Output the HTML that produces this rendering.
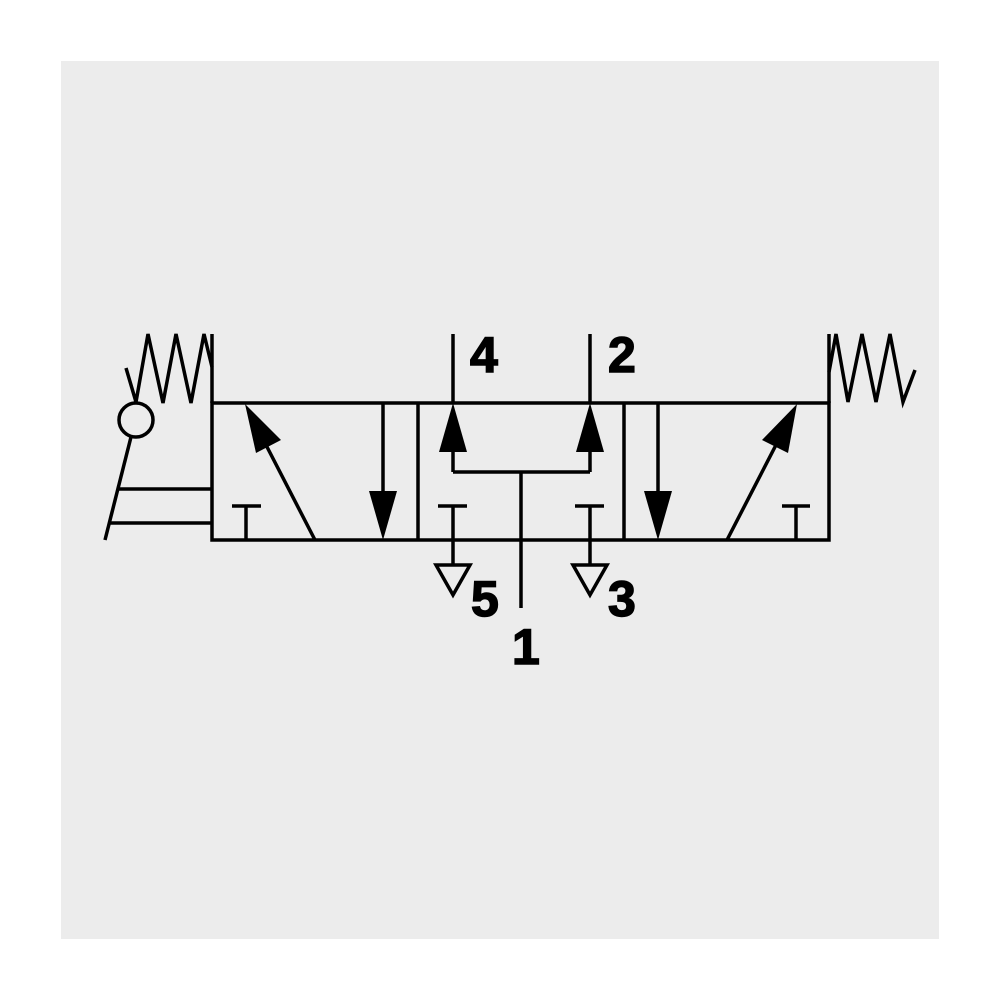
<!DOCTYPE html>
<html><head><style>body{margin:0;background:#fff}</style></head><body>
<svg width="1000" height="1000" viewBox="0 0 1000 1000" xmlns="http://www.w3.org/2000/svg">
<rect x="61" y="61" width="878" height="878" fill="#ececec"/>
<g stroke="#000" stroke-width="3.5" fill="none" stroke-linecap="butt">
<rect x="212" y="403" width="617" height="137"/>
<line x1="418" y1="403" x2="418" y2="540"/>
<line x1="624" y1="403" x2="624" y2="540"/>
<line x1="212" y1="334" x2="212" y2="403"/>
<line x1="829" y1="334" x2="829" y2="403"/>
<polyline points="126,368 136,402 148,334 163,403 176,334 191,403 204,334 212,367"/>
<polyline points="829,372 836,334 848,402 862,334 876,402 890,334 903,402 915,370"/>
<circle cx="136" cy="420" r="17"/>
<line x1="131" y1="437" x2="105" y2="540"/>
<line x1="119" y1="489" x2="212" y2="489"/>
<line x1="110" y1="523" x2="212" y2="523"/>
<line x1="315" y1="540" x2="265" y2="443"/>
<line x1="232" y1="506" x2="261" y2="506"/><line x1="246" y1="506" x2="246" y2="540"/>
<line x1="383" y1="403" x2="383" y2="495"/>
<line x1="453" y1="334" x2="453" y2="403"/>
<line x1="590" y1="334" x2="590" y2="403"/>
<line x1="453" y1="445" x2="453" y2="472"/>
<line x1="590" y1="445" x2="590" y2="472"/>
<line x1="453" y1="472" x2="590" y2="472"/>
<line x1="521" y1="472" x2="521" y2="608"/>
<line x1="438" y1="506" x2="467" y2="506"/><line x1="453" y1="506" x2="453" y2="565"/>
<line x1="575" y1="506" x2="604" y2="506"/><line x1="590" y1="506" x2="590" y2="565"/>
<polygon points="436,565 470,565 453,595"/>
<polygon points="573,565 607,565 590,595"/>
<line x1="658" y1="403" x2="658" y2="495"/>
<line x1="727" y1="540" x2="777" y2="443"/>
<line x1="782" y1="506" x2="810" y2="506"/><line x1="796" y1="506" x2="796" y2="540"/>
</g>
<g fill="#000">
<polygon points="245,404 281,440 256,453"/>
<polygon points="369,491 397,491 383,540"/>
<polygon points="453,403 439,452 467,452"/>
<polygon points="590,403 576,452 604,452"/>
<polygon points="644,491 672,491 658,540"/>
<polygon points="797,404 788,453 762,440"/>
</g>
<g font-family="Liberation Sans, sans-serif" font-weight="bold" font-size="50" fill="#000" stroke="#000" stroke-width="1.5">
<text x="470" y="372">4</text>
<text x="608" y="372">2</text>
<text x="471" y="616">5</text>
<text x="608" y="616">3</text>
<text x="512" y="664">1</text>
</g>
</svg>
</body></html>
